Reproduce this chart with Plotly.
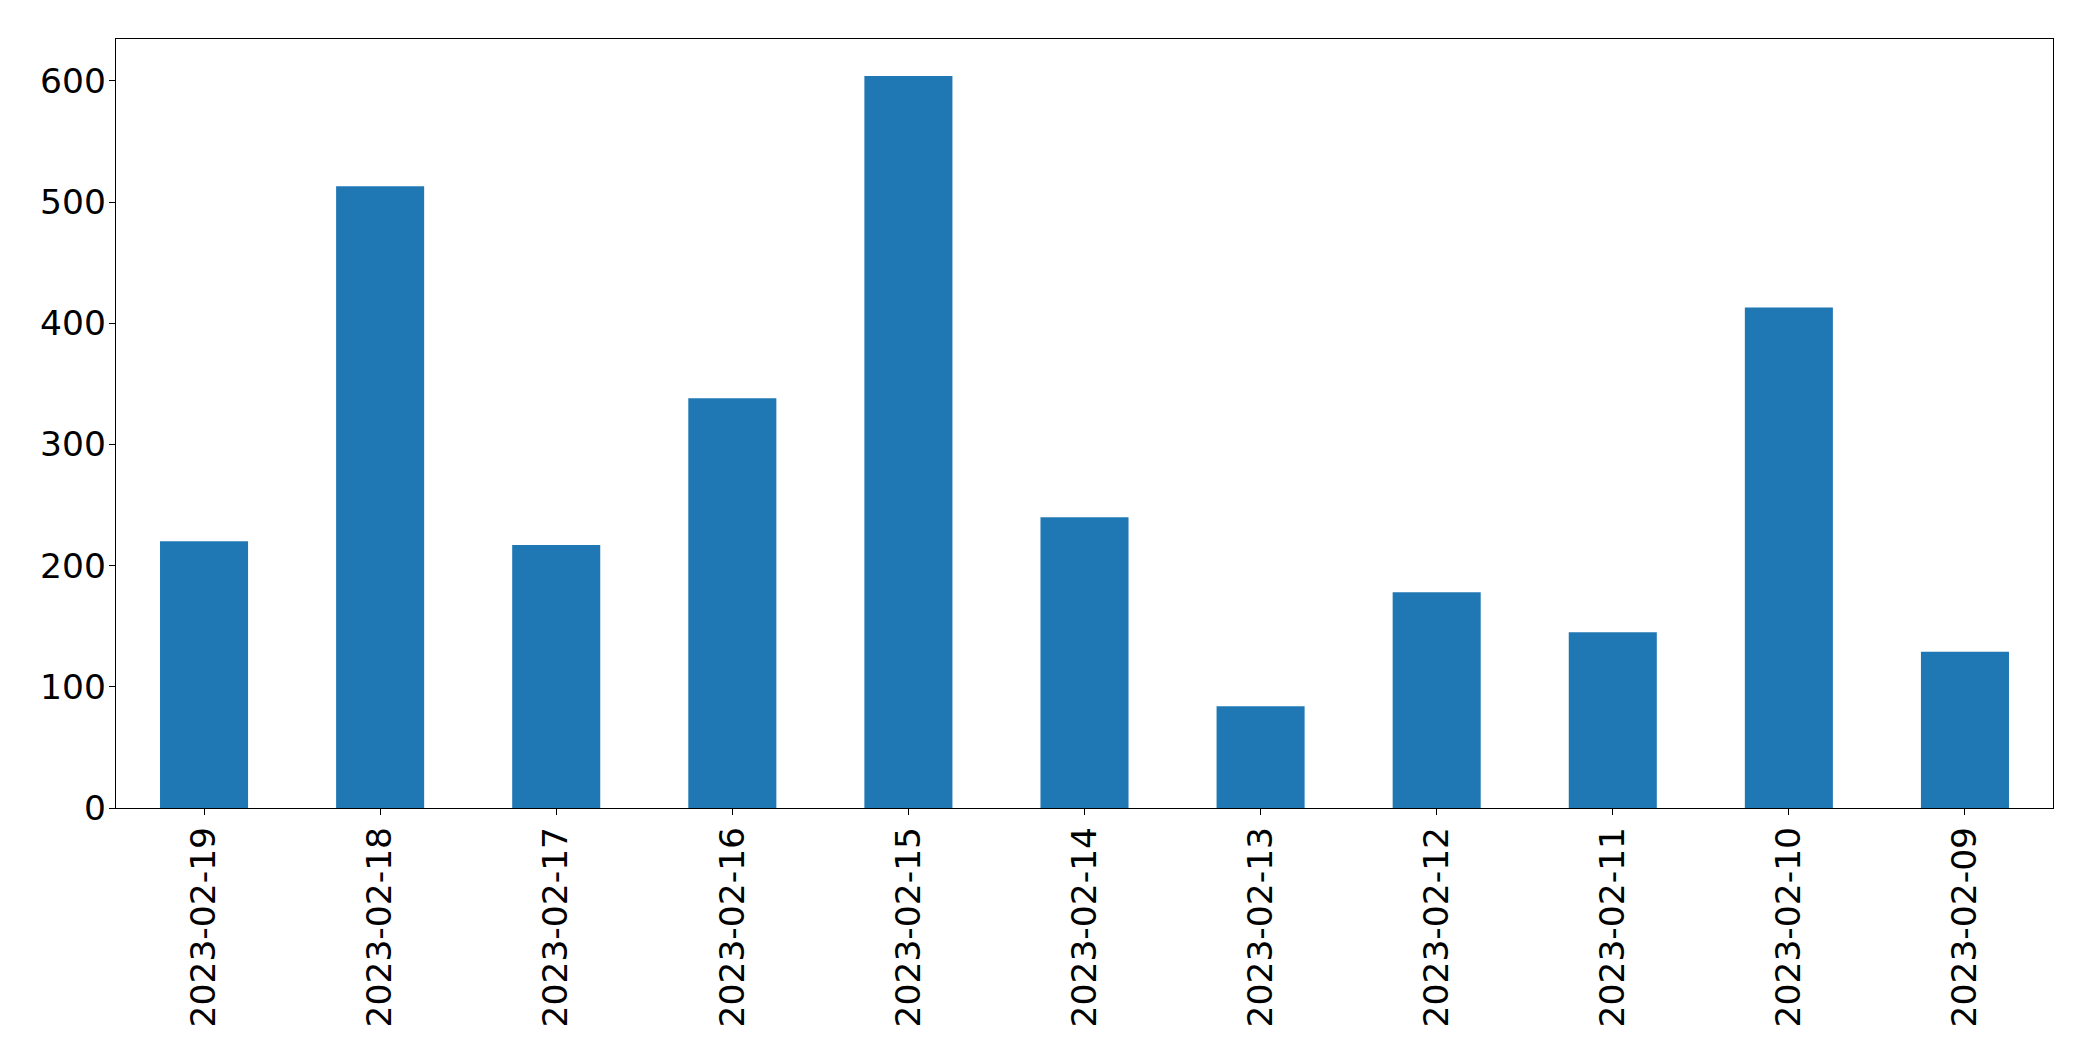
import plotly.graph_objects as go

dates = ["2023-02-19", "2023-02-18", "2023-02-17", "2023-02-16", "2023-02-15",
         "2023-02-14", "2023-02-13", "2023-02-12", "2023-02-11", "2023-02-10",
         "2023-02-09"]
counts = [220, 513, 217, 338, 604, 240, 84, 178, 145, 413, 129]

y_ticks = [0, 100, 200, 300, 400, 500, 600]

fig = go.Figure(go.Bar(x=dates, y=counts, marker=dict(color="#1f77b4", line=dict(width=0))))

axis_common = dict(
    showline=True, linecolor="black", linewidth=1.3, mirror=True,
    ticks="outside", ticklen=6, tickwidth=1.3, tickcolor="black",
    showgrid=False, zeroline=False,
    tickfont=dict(family="DejaVu Sans", size=34.5, color="black"),
)

fig.update_layout(
    width=2093, height=1061,
    margin=dict(l=116, r=40, t=39, b=253),
    paper_bgcolor="white", plot_bgcolor="white",
    bargap=0.5, showlegend=False,
    xaxis=dict(type="category", tickangle=-90, range=[-0.5, 10.5],
               ticklabelstandoff=-2, **axis_common),
    yaxis=dict(range=[0, 634.5], tickvals=y_ticks, ticklabelstandoff=-4, **axis_common),
)

fig.write_html("out.html")
